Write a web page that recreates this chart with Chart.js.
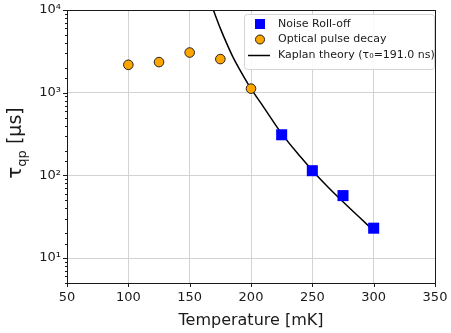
<!DOCTYPE html>
<html>
<head>
<meta charset="utf-8">
<script src="https://cdn.jsdelivr.net/npm/chart.js@4"></script>
<style>
	html, body { margin: 0; padding: 0; background: #fff; }
	#wrap { width: 451px; height: 333px; }
</style>
</head>
<body>
<div id="wrap"><canvas id="chart-1" width="451" height="333"></canvas></div>
<script>
var noiseTemps = [225, 250, 275, 300];
var noiseTau = [310, 114, 57, 23];

var opticalTemps = [100, 125, 150, 175, 200];
var opticalTau = [2175, 2345, 3060, 2550, 1120];

// Kaplan curve
var theoryTemps = [169.3, 175, 180, 185, 190, 200, 210, 225, 240, 250, 262.5, 275, 287.5, 300];
var theoryTau = [10000, 6000, 4000, 2750, 2000, 1120, 680, 320, 170, 115, 73, 48, 32, 21.5];

var xTicks = [50, 100, 150, 200, 250, 300, 350];
var yDecades = [10, 100, 1000, 10000];
var supers = { 1: '\u00b9', 2: '\u00b2', 3: '\u00b3', 4: '\u2074' };

var legendLabels = ['Noise Roll-off', 'Optical pulse decay', 'Kaplan theory (\u03c4\u2080=191.0 ns)'];

var FONT = "'DejaVu Sans', sans-serif";
var INK = '#1a1a1a';

function pairs(xs, ys){
	var out = [];
	for(var i = 0; i < xs.length; i++){ out.push({x: xs[i], y: ys[i]}); }
	return out;
}

function isDecade(v){
	var l = Math.log10(v);
	return Math.abs(l - Math.round(l)) < 1e-9;
}

var framePlugin = {
	id: 'frame',
	afterDraw: function(chart){
		var ctx = chart.ctx, a = chart.chartArea;
		var xs = chart.scales.x, ys = chart.scales.y;
		ctx.save();
		ctx.strokeStyle = INK;
		ctx.lineWidth = 1;
		ctx.strokeRect(Math.round(a.left) + 0.5, Math.round(a.top) + 0.5, Math.round(a.right - a.left), Math.round(a.bottom - a.top));
		// x ticks
		xTicks.forEach(function(v){
			var px = Math.round(xs.getPixelForValue(v)) + 0.5;
			ctx.beginPath(); ctx.moveTo(px, a.bottom); ctx.lineTo(px, a.bottom + 4); ctx.stroke();
		});
		// y ticks, major and minor
		ys.ticks.forEach(function(t){
			if(t.value < ys.min || t.value > ys.max) return;
			var py = Math.round(ys.getPixelForValue(t.value)) + 0.5;
			var len = isDecade(t.value) ? 4 : 2;
			ctx.beginPath(); ctx.moveTo(a.left - len, py); ctx.lineTo(a.left, py); ctx.stroke();
		});

		// axis titles
		ctx.fillStyle = INK;
		ctx.textBaseline = 'alphabetic';
		ctx.textAlign = 'center';
		ctx.font = '16px ' + FONT;
		ctx.fillText('Temperature [mK]', (a.left + a.right) / 2, 325);

		ctx.translate(21, 143);
		ctx.rotate(-Math.PI / 2);
		ctx.textAlign = 'left';
		var parts = [['\u03c4', '20px', 0], ['qp', '13px', 5], [' [\u03bcs]', '19px', 0]];
		var total = 0;
		parts.forEach(function(p){ ctx.font = p[1] + ' ' + FONT; total += ctx.measureText(p[0]).width; });
		var cx = -total / 2;
		parts.forEach(function(p){
			ctx.font = p[1] + ' ' + FONT;
			ctx.fillText(p[0], cx, p[2]);
			cx += ctx.measureText(p[0]).width;
		});
		ctx.restore();

		_drawLegend(chart);
	}
};

function _drawLegend(chart){
	var ctx = chart.ctx;
	var x0 = 244, y0 = 14, w = 190, h = 55, r = 3;
	ctx.save();
	ctx.fillStyle = 'rgba(255,255,255,0.85)';
	ctx.strokeStyle = '#d4d4d4';
	ctx.lineWidth = 1;
	ctx.beginPath();
	ctx.roundRect(x0 + 0.5, y0 + 0.5, w, h, r);
	ctx.fill(); ctx.stroke();

	var rows = [24, 39.5, 55.5];
	// square
	ctx.fillStyle = '#0000ff';
	ctx.fillRect(255, rows[0] - 5, 10, 10);
	// circle
	ctx.beginPath();
	ctx.arc(260, rows[1], 4.5, 0, Math.PI * 2);
	ctx.fillStyle = '#ffa500'; ctx.fill();
	ctx.strokeStyle = '#222'; ctx.lineWidth = 1; ctx.stroke();
	// line
	ctx.beginPath(); ctx.moveTo(248, rows[2]); ctx.lineTo(270, rows[2]);
	ctx.strokeStyle = '#000'; ctx.lineWidth = 1.5; ctx.stroke();

	ctx.fillStyle = INK;
	ctx.font = '11px ' + FONT;
	ctx.textAlign = 'left';
	ctx.textBaseline = 'middle';
	legendLabels.forEach(function(s, i){ ctx.fillText(s, 278, rows[i]); });
	ctx.restore();
}

var ctx = document.getElementById('chart-1');
var chart = new Chart(ctx, {
	type: 'scatter',
	data: {
		datasets: [{
			label: legendLabels[2],
			type: 'line',
			data: pairs(theoryTemps, theoryTau),
			borderColor: '#000',
			borderWidth: 1.5,
			pointRadius: 0,
			fill: false,
			cubicInterpolationMode: 'monotone',
			order: 3
		}, {
			label: legendLabels[1],
			data: pairs(opticalTemps, opticalTau),
			backgroundColor: '#ffa500',
			borderColor: '#222',
			borderWidth: 1,
			pointRadius: 4.8,
			pointStyle: 'circle',
			order: 1
		}, {
			label: legendLabels[0],
			data: pairs(noiseTemps, noiseTau),
			backgroundColor: '#0000ff',
			borderWidth: 0,
			pointRadius: 7.8,
			pointStyle: 'rect',
			order: 2
		}]
	},
	options: {
		responsive: false,
		animation: false,
		layout: { padding: { top: 10, right: 16, left: 0, bottom: 0 } },
		plugins: { legend: { display: false }, tooltip: { enabled: false } },
		scales: {
			x: {
				type: 'linear',
				min: 50, max: 350,
				afterFit: function(s){ s.height = 50; s.paddingLeft = 0; s.paddingRight = 0; },
				afterBuildTicks: function(s){ s.ticks = xTicks.map(function(v){ return {value: v}; }); },
				border: { display: false },
				grid: { color: '#d3d3d3', lineWidth: 1, drawTicks: false },
				ticks: { color: INK, padding: 7, font: { family: FONT, size: 13 } }
			},
			y: {
				type: 'logarithmic',
				min: 5, max: 10000,
				afterFit: function(s){ s.width = 67; s.paddingTop = 0; s.paddingBottom = 0; },
				border: { display: false },
				grid: {
					drawTicks: false,
					lineWidth: 1,
					color: function(c){ return (c.tick && isDecade(c.tick.value)) ? '#d3d3d3' : 'rgba(0,0,0,0)'; }
				},
				ticks: {
					color: INK,
					padding: 6,
					autoSkip: false,
					font: { family: FONT, size: 13 },
					callback: function(v){
						if(!isDecade(v)) return '';
						var e = Math.round(Math.log10(v));
						return '10' + supers[e];
					}
				}
			}
		}
	},
	plugins: [framePlugin]
});
</script>
</body>
</html>
